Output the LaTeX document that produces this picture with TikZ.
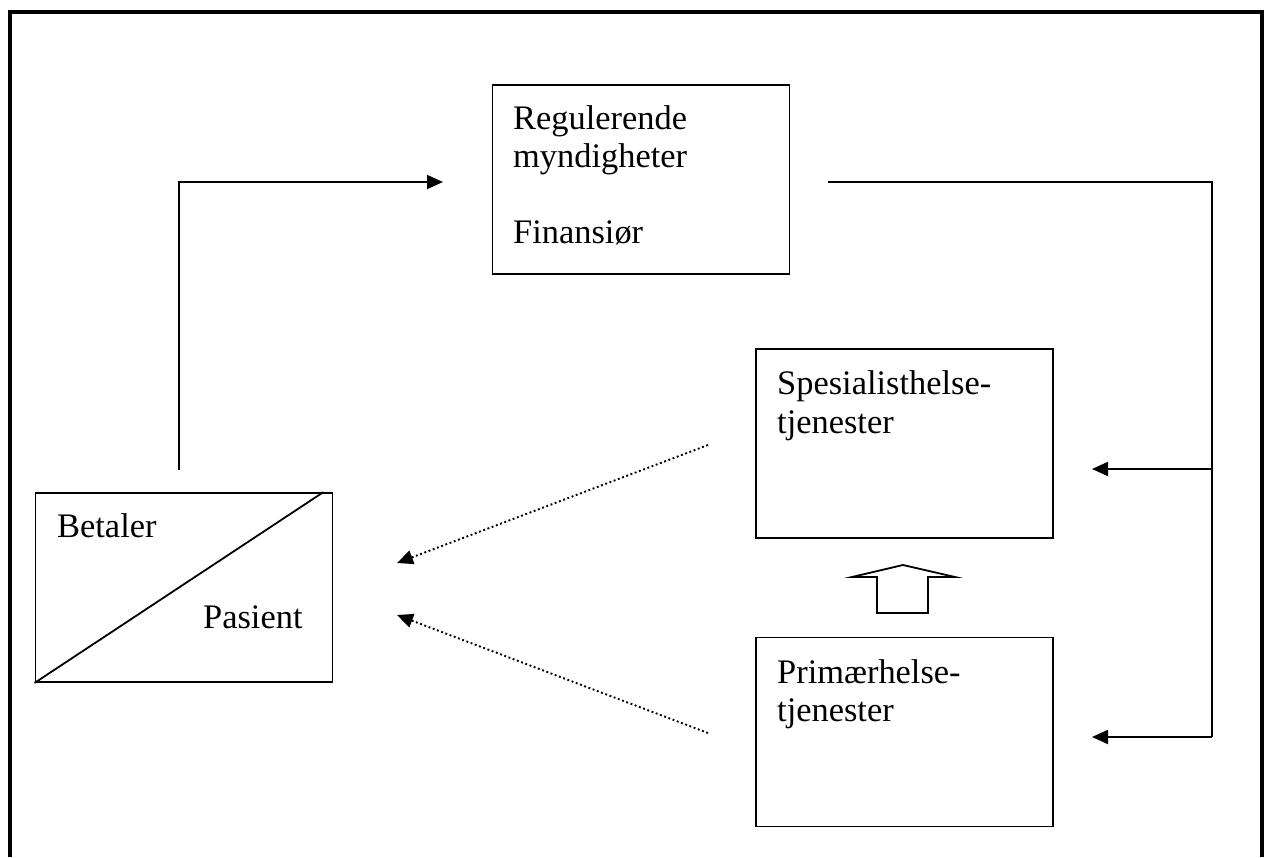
\documentclass[tikz,border=0pt]{standalone}
\usepackage{fontspec}
\setmainfont{Liberation Serif}
\usetikzlibrary{arrows.meta}
\begin{document}
\begin{tikzpicture}[x=1pt,y=-1pt,
  box/.style={draw,line width=1.8pt,rectangle,minimum width=297pt,minimum height=189pt,inner sep=0pt},
  lbl/.style={anchor=base west,inner sep=0pt,font=\fontsize{34.4pt}{38.5pt}\selectfont},
  conn/.style={line width=1.8pt,-{Triangle[length=16pt,width=14pt]}},
  dotconn/.style={line width=1.9pt,dash pattern=on 1.9pt off 2.6pt,-{Triangle[length=16pt,width=14pt]}},
  frame/.style={line width=3.5pt}
]
\useasboundingbox (0,0) rectangle (1264,857);
% outer frame (open at the bottom)
\draw[frame] (10,857) -- (10,12) -- (1262,12) -- (1262,857);

% boxes
\node[box] (reg) at (641,179.5) {};
\node[box] (spes) at (904.5,443.5) {};
\node[box] (prim) at (904.5,732) {};
\node[box] (bet) at (184,587.5) {};
\draw[line width=1.8pt] (bet.south west) -- ([xshift=-10pt]bet.north east);

% texts
\node[lbl] (t1) at (513,129) {Regulerende};
\node[lbl] (t2) at (513,167) {myndigheter};
\node[lbl] (t3) at (513,243) {Finansiør};
\node[lbl] (t4) at (777,394) {Spesialisthelse-};
\node[lbl] (t5) at (777,433) {tjenester};
\node[lbl] (t6) at (777,683) {Primærhelse-};
\node[lbl] (t7) at (777,721) {tjenester};
\node[lbl] (t8) at (57,537) {Betaler};
\node[lbl] (t9) at (203,628) {Pasient};

% connector coordinates
\coordinate (bs) at (179,470);
\coordinate (ra) at (443,182);
\coordinate (rs) at (828,182);
\coordinate (rc) at (1212,182);
\coordinate (j1) at (1212,469);
\coordinate (j2) at (1212,737);
\coordinate (a1) at (1092,469);
\coordinate (a2) at (1092,737);
\coordinate (d1s) at (708,445);
\coordinate (d1e) at (397,563);
\coordinate (d2s) at (708,733);
\coordinate (d2e) at (397,615);

\draw[conn] (bs) |- (ra);
\draw[line width=1.8pt] (rs) -- (rc) -- (j2);
\draw[conn] (j1) -- (a1);
\draw[conn] (j2) -- (a2);
\draw[dotconn] (d1s) -- (d1e);
\draw[dotconn] (d2s) -- (d2e);

% block arrow
\draw[line width=1.8pt,line join=miter] (877,613) -- (877,577) -- (852,577) -- (903,565) -- (955,577) -- (928,577) -- (928,613) -- cycle;
\end{tikzpicture}
\end{document}
